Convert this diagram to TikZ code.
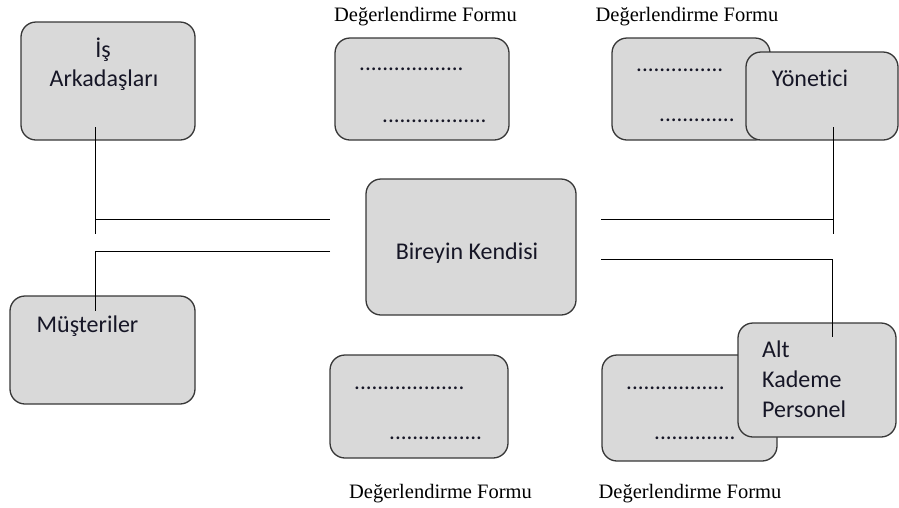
\documentclass[tikz,border=0pt]{standalone}
\usepackage{fontspec}
\setmainfont{Liberation Serif}
\newfontfamily\carlito[Ligatures={NoCommon}]{Carlito}
\definecolor{boxfill}{RGB}{217,217,217}
\definecolor{boxline}{RGB}{55,55,55}
\definecolor{txt}{RGB}{22,22,38}
\tikzset{
  card/.style={draw=boxline, fill=boxfill, rounded corners=15pt, line width=1.3pt, inner sep=0pt},
  lbl/.style={font=\carlito\fontsize{24}{28}\selectfont, text=txt, inner sep=0pt, anchor=base},
  lblw/.style={lbl, anchor=base west},
  dots/.style={font=\carlito\fontsize{23}{28}\selectfont, text=txt, inner sep=0pt, anchor=base west},
  form/.style={font=\fontsize{20.5}{24}\selectfont, text=black, inner sep=0pt, anchor=base},
  conn/.style={draw=black, line width=1pt}
}
\begin{document}
\begin{tikzpicture}[x=1pt,y=-1pt]
\useasboundingbox (0,0) rectangle (899,507);
% boxes
\node[card, minimum width=174pt, minimum height=118pt] (ia) at (108,81) {};
\node[card, minimum width=174pt, minimum height=102pt] (f1) at (422,89) {};
\node[card, minimum width=158pt, minimum height=102pt] (f2) at (691,89) {};
\node[card, minimum width=152pt, minimum height=88pt] (yon) at (822,96) {};
\node[card, minimum width=210pt, minimum height=136pt] (bk) at (471,247) {};
\node[card, minimum width=185pt, minimum height=108pt] (mu) at (102.5,350) {};
\node[card, minimum width=178pt, minimum height=103pt] (f3) at (419,406.5) {};
\node[card, minimum width=175pt, minimum height=106pt] (f4) at (689.5,408) {};
\node[card, minimum width=158pt, minimum height=114pt] (ak) at (817,380) {};
% texts
\node[lbl] (t1) at (103,57) {İş};
\node[lbl] (t2) at (104,86) {Arkadaşları};
\node[lbl] (t3) at (810,86) {Yönetici};
\node[lbl] (t4) at (467,259) {Bireyin Kendisi};
\node[lbl] (t5) at (87.5,332) {Müşteriler};
\node[lblw] (t6) at (762,357) {Alt};
\node[lblw] (t7) at (762,387) {Kademe};
\node[lblw] (t8) at (762,417) {Personel};
% dots
\node[dots] (d1) at (359,70) {..................};
\node[dots] (d2) at (382,122) {..................};
\node[dots] (d3) at (636,71) {...............};
\node[dots] (d4) at (659,121) {.............};
\node[dots] (d5) at (354,389) {...................};
\node[dots] (d6) at (389,439) {................};
\node[dots] (d7) at (626,389) {.................};
\node[dots] (d8) at (654,439) {..............};
% form labels
\node[form] (fl1) at (425.5,21) {Değerlendirme Formu};
\node[form] (fl2) at (687,21) {Değerlendirme Formu};
\node[form] (fl3) at (440.5,498) {Değerlendirme Formu};
\node[form] (fl4) at (690,498) {Değerlendirme Formu};
% connector points
\coordinate (iaIn) at (95,127);
\coordinate (iaEnd) at (95,234);
\coordinate (iaJ) at (95,219);
\coordinate (bkL1) at (330,219);
\coordinate (bkL2) at (330,251);
\coordinate (muJ) at (95,251);
\coordinate (muIn) at (95,311);
\coordinate (yonIn) at (833,127);
\coordinate (yonEnd) at (833,234);
\coordinate (yonJ) at (833,219);
\coordinate (bkR1) at (601,219);
\coordinate (bkR2) at (601,259);
\coordinate (akJ) at (832,259);
\coordinate (akIn) at (832,337);
% connectors
\draw[conn] (iaIn) -- (iaEnd);
\draw[conn] (iaJ) -- (bkL1);
\draw[conn] (bkL2) -- (muJ) -- (muIn);
\draw[conn] (yonIn) -- (yonEnd);
\draw[conn] (bkR1) -- (yonJ);
\draw[conn] (bkR2) -- (akJ) -- (akIn);
\end{tikzpicture}
\end{document}
